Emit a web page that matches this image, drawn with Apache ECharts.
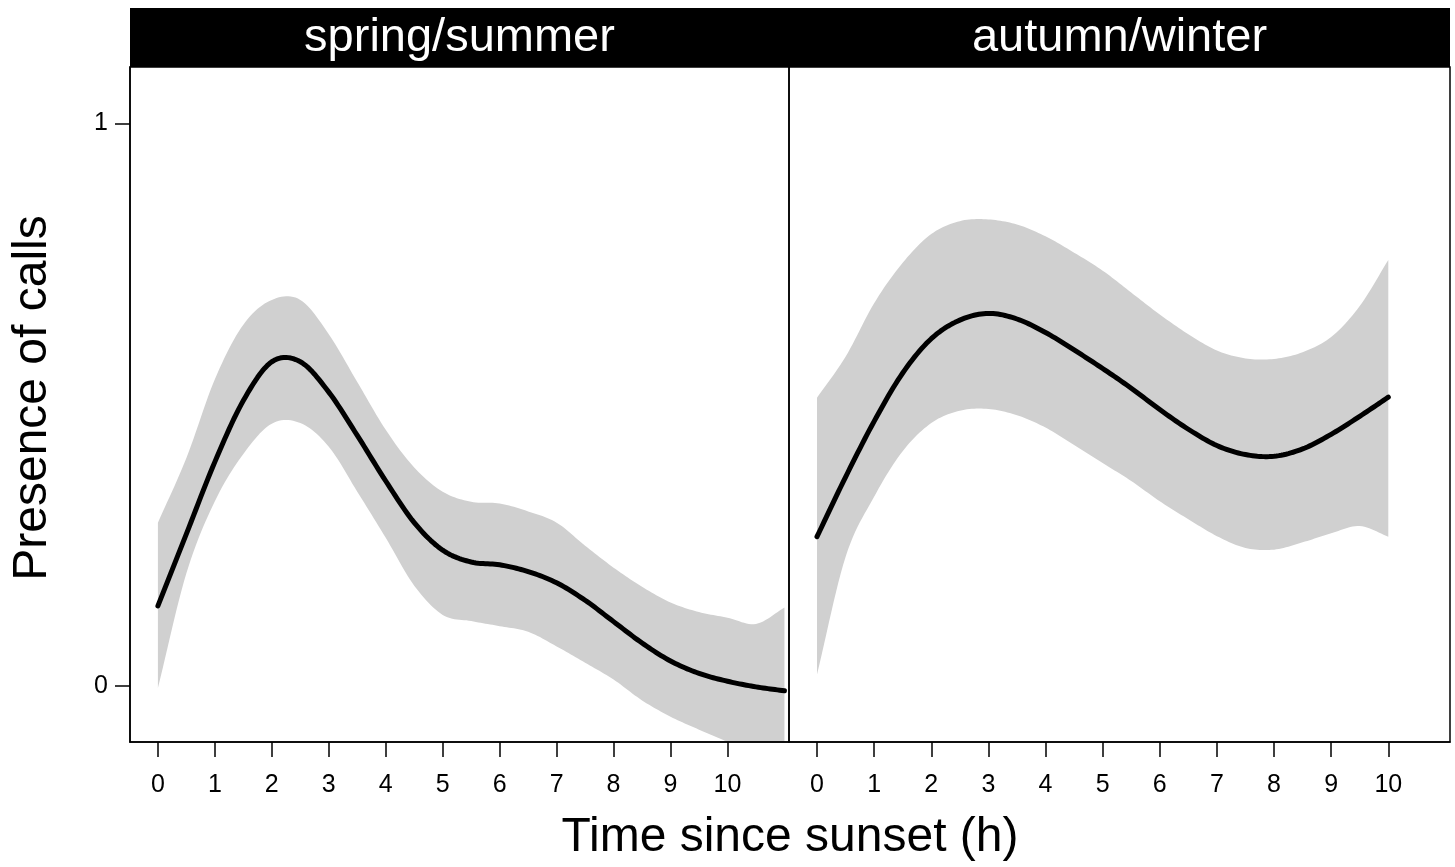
<!DOCTYPE html>
<html>
<head>
<meta charset="utf-8">
<script src="https://cdn.jsdelivr.net/npm/echarts@6/dist/echarts.min.js"></script>
<style>
html,body{margin:0;padding:0;background:#fff;}
#chart{width:1455px;height:867px;}
</style>
</head>
<body>
<div id="chart"></div>
<script>
// ---- data ----
var panelTitles = ['spring/summer', 'autumn/winter'];
var xTickValues = [0,1,2,3,4,5,6,7,8,9,10];
var yTickValues = [0,1];

var springX     = [0,0.5,1,1.5,2,2.5,3,3.5,4,4.5,5,5.5,6,6.5,7,7.5,8,8.5,9,9.5,10,10.5,11];
var springMean  = [0.142,0.270,0.398,0.507,0.576,0.576,0.522,0.445,0.364,0.290,0.241,0.220,0.215,0.203,0.183,0.152,0.114,0.076,0.044,0.022,0.008,-0.002,-0.009];
var springUpper = [0.290,0.405,0.545,0.642,0.686,0.686,0.625,0.540,0.455,0.388,0.345,0.327,0.324,0.310,0.290,0.249,0.210,0.176,0.148,0.131,0.121,0.110,0.139];
var springLower = [-0.004,0.200,0.328,0.412,0.466,0.467,0.425,0.345,0.263,0.178,0.126,0.115,0.106,0.096,0.070,0.041,0.011,-0.026,-0.055,-0.078,-0.100,-0.125,-0.150];

var autumnX     = [0,0.5,1,1.5,2,2.5,3,3.5,4,4.5,5,5.5,6,6.5,7,7.5,8,8.5,9,9.5,10];
var autumnMean  = [0.265,0.371,0.470,0.556,0.617,0.650,0.662,0.652,0.628,0.597,0.564,0.529,0.491,0.456,0.427,0.411,0.408,0.421,0.447,0.479,0.513];
var autumnUpper = [0.512,0.585,0.680,0.752,0.803,0.826,0.829,0.820,0.799,0.770,0.738,0.699,0.660,0.625,0.596,0.582,0.581,0.593,0.620,0.675,0.757];
var autumnLower = [0.020,0.229,0.336,0.417,0.467,0.489,0.492,0.481,0.459,0.428,0.396,0.364,0.328,0.296,0.266,0.245,0.242,0.255,0.271,0.284,0.265];

var xTitle = 'Time since sunset (h)';
var yTitle = 'Presence of calls';

// ---- build ----
var FONT = "'Liberation Sans', Arial, sans-serif";
function pairs(xs, ys){ return xs.map(function(x,i){ return [x, ys[i]]; }); }

// smooth curve through the data points (cubic Hermite, in pixel space via the axes)
function curvePixels(xs, ys, api, sub){
  var P = xs.map(function(x,i){ return api.coord([x, ys[i]]); });
  var n = P.length, m = [];
  for (var i = 0; i < n; i++){
    if (i === 0) m.push((P[1][1]-P[0][1])/(P[1][0]-P[0][0]));
    else if (i === n-1) m.push((P[n-1][1]-P[n-2][1])/(P[n-1][0]-P[n-2][0]));
    else m.push((P[i+1][1]-P[i-1][1])/(P[i+1][0]-P[i-1][0]));
  }
  var out = [];
  for (var j = 0; j < n-1; j++){
    var x0 = P[j][0], y0 = P[j][1], x1 = P[j+1][0], y1 = P[j+1][1], h = x1 - x0;
    for (var k = 0; k < sub; k++){
      var t = k/sub, t2 = t*t, t3 = t2*t;
      var y = (2*t3-3*t2+1)*y0 + (t3-2*t2+t)*h*m[j] + (-2*t3+3*t2)*y1 + (t3-t2)*h*m[j+1];
      out.push([x0 + t*h, y]);
    }
  }
  out.push([P[n-1][0], P[n-1][1]]);
  return out;
}

function bandSeries(idx, xs, up, lo){
  return { type:'custom', xAxisIndex:idx, yAxisIndex:idx, data:pairs(xs, up), clip:true, silent:true, z:1,
    renderItem:function(params, api){
      if (params.dataIndex !== 0) return null;
      var cs = params.coordSys;
      var top = curvePixels(xs, up, api, 12);
      var bot = curvePixels(xs, lo, api, 12).reverse();
      var pts = top.concat(bot).map(function(p){
        return [p[0], Math.max(cs.y, Math.min(cs.y + cs.height, p[1]))];
      });
      return {type:'polygon', shape:{points:pts}, style:{fill:'#d0d0d0', stroke:null}};
    }
  };
}
function meanSeries(idx, xs, mean){
  return { type:'custom', xAxisIndex:idx, yAxisIndex:idx, data:pairs(xs, mean), clip:true, silent:true, z:3,
    renderItem:function(params, api){
      if (params.dataIndex !== 0) return null;
      return {type:'polyline', shape:{points:curvePixels(xs, mean, api, 12)},
        style:{stroke:'#000', lineWidth:5, fill:null, lineCap:'round', lineJoin:'round'}};
    }
  };
}

function xAxis(idx){
  return { type:'value', gridIndex:idx, min:-0.49, max:11.08, z:10,
    axisLine:{show:true, onZero:false, lineStyle:{color:'#000', width:1.5}},
    axisTick:{show:true, customValues:xTickValues, length:15, inside:false, lineStyle:{color:'#000', width:1.5}},
    axisLabel:{show:true, customValues:xTickValues, color:'#000', fontSize:25, fontFamily:FONT, margin:31},
    splitLine:{show:false} };
}
function yAxis(idx, show){
  return { type:'value', gridIndex:idx, min:-0.1, max:1.1, show:show, z:10,
    axisLine:{show:true, onZero:false, lineStyle:{color:'#000', width:1.5}},
    axisTick:{show:true, customValues:yTickValues, length:15, lineStyle:{color:'#000', width:1.5}},
    axisLabel:{show:true, customValues:yTickValues, color:'#000', fontSize:25, fontFamily:FONT, margin:22},
    splitLine:{show:false} };
}

var chart = echarts.init(document.getElementById('chart'), null, {renderer:'canvas'});
chart.setOption({
  animation:false,
  backgroundColor:'#fff',
  grid:[
    {left:130, top:67, width:659, height:675, show:true, z:10, borderColor:'#000', borderWidth:1.5, backgroundColor:'transparent'},
    {left:789, top:67, width:661, height:675, show:true, z:10, borderColor:'#000', borderWidth:1.5, backgroundColor:'transparent'}
  ],
  xAxis:[xAxis(0), xAxis(1)],
  yAxis:[yAxis(0, true), yAxis(1, false)],
  series:[
    bandSeries(0, springX, springUpper, springLower),
    meanSeries(0, springX, springMean),
    bandSeries(1, autumnX, autumnUpper, autumnLower),
    meanSeries(1, autumnX, autumnMean)
  ],
  graphic:[
    {type:'rect', shape:{x:130, y:8, width:1320, height:59}, style:{fill:'#000'}, z:100},
    {type:'text', x:459.5, y:38, z:101, style:{text:panelTitles[0], fill:'#fff', font:'47px '+FONT, textAlign:'center', textVerticalAlign:'middle'}},
    {type:'text', x:1119.5, y:38, z:101, style:{text:panelTitles[1], fill:'#fff', font:'47px '+FONT, textAlign:'center', textVerticalAlign:'middle'}},
    {type:'text', x:790, y:838, z:101, style:{text:xTitle, fill:'#000', font:'48px '+FONT, textAlign:'center', textVerticalAlign:'middle'}},
    {type:'text', x:33, y:398, rotation:Math.PI/2, z:101, style:{text:yTitle, fill:'#000', font:'48px '+FONT, textAlign:'center', textVerticalAlign:'middle'}}
  ]
});
</script>
</body>
</html>
